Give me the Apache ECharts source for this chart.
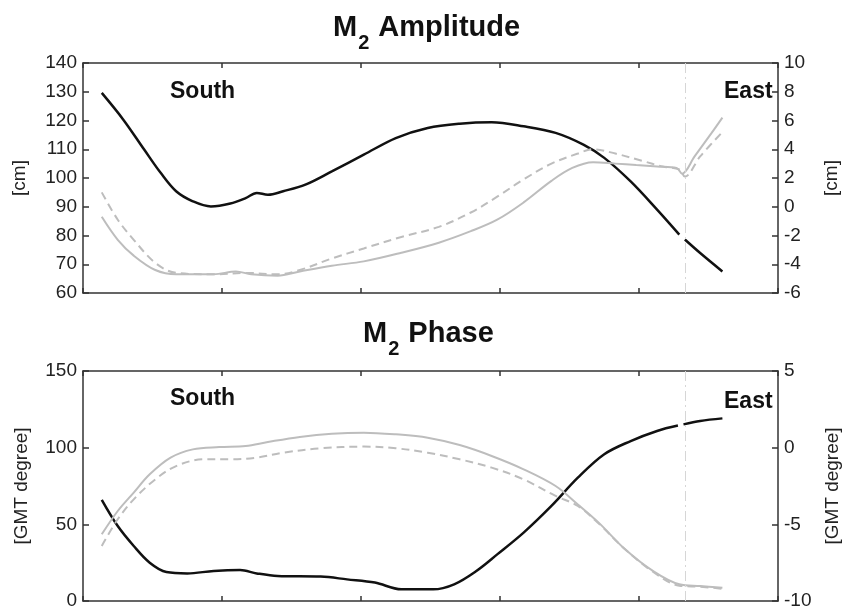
<!DOCTYPE html>
<html>
<head>
<meta charset="utf-8">
<script src="https://cdn.jsdelivr.net/npm/echarts@6/dist/echarts.min.js"></script>
<style>
  html, body { margin: 0; padding: 0; background: #fff; }
  #main { width: 844px; height: 606px; }
</style>
</head>
<body>
<div id="main"></div>
<script>
// M2 amplitude, black curve (left axis, cm)
var ampBlackX = [1.35, 2.9, 4.4, 5.6, 6.7, 7.9, 9.2, 10.6, 11.7, 12.5, 13.3, 14.4, 16, 17.9, 20.2, 22.5, 24.8, 27.1, 29.4, 31.7, 34, 36, 37.5, 39.4, 41.3, 42.9, 43.1, 43.3, 44.4, 46];
var ampBlack = [129.6, 120.3, 109.9, 101.7, 95.4, 91.9, 90.1, 91.1, 93, 94.8, 94.2, 95.4, 97.7, 102.3, 108.1, 113.9, 117.4, 118.9, 119.4, 118, 115.7, 111.6, 107, 98.8, 89, 80.3, null, 78.6, 73.9, 67.5];
// gray curves (right axis, cm)
var ampSolidX = [1.35, 2.5, 3.65, 5.2, 6.7, 9.4, 11, 12.1, 14, 15.6, 17.9, 20.2, 22.9, 25.6, 27.9, 29.8, 31.7, 33.7, 35.2, 36.7, 38.3, 39.8, 41.3, 42.7, 43.1, 44, 45.2, 46];
var ampSolid = [-0.7, -2.3, -3.4, -4.4, -4.7, -4.7, -4.5, -4.7, -4.8, -4.5, -4.1, -3.8, -3.2, -2.5, -1.7, -0.9, 0.3, 1.8, 2.7, 3.1, 3.0, 2.9, 2.8, 2.7, 2.3, 3.5, 5.1, 6.2];
var ampDashX = [1.35, 2.5, 3.65, 5.2, 6.7, 9.4, 11.7, 14, 15.6, 17.9, 20.2, 22.9, 25.6, 27.9, 29.8, 31.7, 33.7, 35.6, 36.7, 38.3, 40.2, 41.7, 42.9, 43.3, 44.4, 46];
var ampDash = [1.0, -0.9, -2.3, -3.9, -4.6, -4.7, -4.6, -4.7, -4.4, -3.6, -2.9, -2.1, -1.4, -0.4, 0.7, 1.9, 3.0, 3.7, 4.0, 3.7, 3.2, 2.8, 2.6, 2.1, 3.5, 5.2];

// M2 phase, black curve (left axis, GMT degree)
var phBlackX = [1.35, 2.5, 3.65, 4.8, 6, 7.5, 9.4, 11.3, 12.5, 14, 17.1, 19, 21, 22.9, 25.2, 26.7, 28.3, 29.8, 31.7, 33.7, 35.6, 37.5, 39.4, 41.3, 42.8, 43.0, 43.2, 44.4, 46];
var phBlack = [66, 48.9, 35.9, 25, 18.9, 18, 19.6, 20.2, 18, 16.3, 15.9, 14.1, 12, 7.6, 7.6, 10.9, 19.6, 30.4, 44.6, 62, 80.4, 95.7, 104.3, 110.9, 114.4, null, 115.2, 117.4, 119.1];
// gray curves (right axis, GMT degree)
var phSolidX = [1.35, 2.5, 3.65, 4.8, 6.3, 7.9, 9.8, 11.7, 13.3, 15.6, 17.9, 20.2, 22.5, 24.8, 27.1, 29.4, 31.7, 34, 35.6, 37.1, 39, 41, 42.9, 44.4, 46];
var phSolid = [-5.65, -4.13, -2.93, -1.74, -0.65, -0.11, 0.04, 0.11, 0.37, 0.7, 0.91, 0.98, 0.87, 0.65, 0.17, -0.54, -1.41, -2.5, -3.7, -4.89, -6.63, -8.04, -8.91, -9.02, -9.13];
var phDashX = [1.35, 2.5, 3.65, 5.2, 6.7, 8.7, 10.6, 12.5, 14.4, 17.1, 20.2, 22.5, 24.8, 27.1, 29.4, 31.7, 34, 35.6, 37.1, 39, 41, 42.9, 44.4, 46];
var phDash = [-6.41, -4.67, -3.37, -2.07, -1.2, -0.76, -0.76, -0.65, -0.33, -0.04, 0.07, -0.04, -0.33, -0.76, -1.3, -2.07, -3.15, -3.8, -4.95, -6.63, -8.09, -9.0, -9.07, -9.2];

var dividerX = 43.3;

function pairs(xs, ys) {
  return xs.map(function (x, i) { return [x, ys[i]]; });
}

var font = 'Liberation Sans, Arial, sans-serif';
var axisColor = '#333';
var gray = '#bdbdbd';

function xAx(grid, pos) {
  return {
    type: 'value', gridIndex: grid, position: pos, min: 0, max: 50, interval: 10,
    axisLine: { show: true, onZero: false, lineStyle: { color: axisColor, width: 1.5 } },
    axisTick: { show: true, inside: true, length: 5, lineStyle: { color: axisColor, width: 1.5 } },
    axisLabel: { show: false },
    splitLine: { show: false }
  };
}

function yAx(grid, pos, min, max, step, name, gap) {
  return {
    type: 'value', gridIndex: grid, position: pos, min: min, max: max, interval: step,
    name: name, nameLocation: 'middle', nameRotate: 90, nameGap: gap,
    nameTextStyle: { fontFamily: font, fontSize: 19, color: '#222' },
    axisLine: { show: true, onZero: false, lineStyle: { color: axisColor, width: 1.5 } },
    axisTick: { show: true, inside: true, length: 6, lineStyle: { color: axisColor, width: 1.5 } },
    axisLabel: { fontFamily: font, fontSize: 19, color: '#222', margin: 6 },
    splitLine: { show: false }
  };
}

function titleRich(word) {
  return '{m|M}{s|2}{m| ' + word + '}';
}
var titleRichStyle = {
  m: { fontFamily: font, fontSize: 29, fontWeight: 'bold', color: '#111', lineHeight: 32, verticalAlign: 'top' },
  s: { fontFamily: font, fontSize: 20, fontWeight: 'bold', color: '#111', lineHeight: 20, padding: [20, 1, 0, 1], verticalAlign: 'top' }
};
var tagStyle = { fontFamily: font, fontSize: 23, fontWeight: 'bold', color: '#111' };

function line(x, y, xs, ys, color, width, type) {
  return {
    type: 'line', xAxisIndex: x, yAxisIndex: y, data: pairs(xs, ys),
    symbol: 'none', connectNulls: false, silent: true, smooth: 0.35,
    lineStyle: { color: color, width: width, type: type }
  };
}

function divider() {
  return {
    silent: true, symbol: 'none', label: { show: false },
    lineStyle: { color: '#d6d6d6', width: 1, type: [10, 4, 2, 4] },
    data: [{ xAxis: dividerX }]
  };
}

var chart = echarts.init(document.getElementById('main'));

var s1 = line(0, 0, ampBlackX, ampBlack, '#111', 2.5, 'solid');
s1.markLine = divider();
var s4 = line(2, 2, phBlackX, phBlack, '#111', 2.5, 'solid');
s4.markLine = divider();

chart.setOption({
  animation: false,
  backgroundColor: '#fff',
  title: [
    { text: titleRich('Amplitude'), left: 328, top: 8, textStyle: { rich: titleRichStyle } },
    { text: titleRich('Phase'), left: 358, top: 314, textStyle: { rich: titleRichStyle } },
    { text: 'South', left: 165, top: 75, textStyle: tagStyle },
    { text: 'East', left: 719, top: 75, textStyle: tagStyle },
    { text: 'South', left: 165, top: 382, textStyle: tagStyle },
    { text: 'East', left: 719, top: 385, textStyle: tagStyle }
  ],
  grid: [
    { left: 83, right: 66, top: 63, height: 230, outerBoundsMode: 'none' },
    { left: 83, right: 66, top: 371, height: 230, outerBoundsMode: 'none' }
  ],
  xAxis: [xAx(0, 'bottom'), xAx(0, 'top'), xAx(1, 'bottom'), xAx(1, 'top')],
  yAxis: [
    yAx(0, 'left', 60, 140, 10, '[cm]', 54),
    yAx(0, 'right', -6, 10, 2, '[cm]', 44),
    yAx(1, 'left', 0, 150, 50, '[GMT degree]', 52),
    yAx(1, 'right', -10, 5, 5, '[GMT degree]', 45)
  ],
  series: [
    s1,
    line(0, 1, ampSolidX, ampSolid, gray, 2, 'solid'),
    line(0, 1, ampDashX, ampDash, gray, 2, [8, 5]),
    s4,
    line(2, 3, phSolidX, phSolid, gray, 2, 'solid'),
    line(2, 3, phDashX, phDash, gray, 2, [8, 5])
  ]
});

window.onresize = function () {
  chart.resize();
};
</script>
</body>
</html>
